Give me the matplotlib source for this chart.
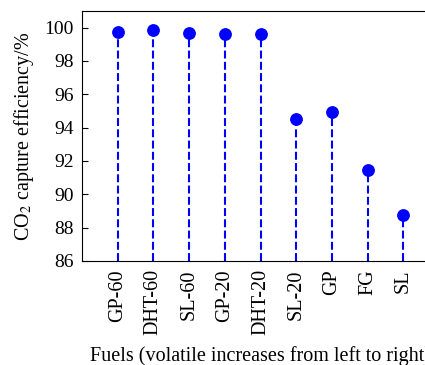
import matplotlib.pyplot as plt
import numpy as np

plt.rcParams['font.family'] = ['Liberation Serif', 'DejaVu Serif']
plt.rcParams['mathtext.fontset'] = 'stix'

fuels = ["GP-60", "DHT-60", "SL-60", "GP-20", "DHT-20", "SL-20", "GP", "FG", "SL"]
efficiency = [99.76, 99.84, 99.70, 99.60, 99.64, 94.52, 94.92, 91.48, 88.75]

fig = plt.figure(figsize=(4.25, 3.65), dpi=100)
ax = fig.add_axes([82 / 425, 1 - 261 / 365, 357 / 425, 250 / 365])

x = np.arange(1, len(fuels) + 1)
markerline, stemlines, baseline = ax.stem(x, efficiency, linefmt="b--", markerfmt="bo",
                                          basefmt=" ", bottom=86)
markerline.set_markersize(8.2)
stemlines.set_linewidth(1.5)
stemlines.set_linestyle((0, (3.8, 1.6)))

ax.set_xlim(0, 10)
ax.set_ylim(86, 101)
ax.set_yticks(np.arange(86, 101, 2))
ax.set_xticks(x)
ax.set_xticklabels(fuels, rotation=90, fontsize=14.5)
ax.tick_params(axis="y", direction="in", length=4, pad=6, labelsize=14)
ax.tick_params(axis="x", length=0, pad=6)
ax.spines["right"].set_visible(False)

ax.set_ylabel("CO$_2$ capture efficiency/%", fontsize=14.5, labelpad=6)
ax.set_xlabel("Fuels (volatile increases from left to right)", fontsize=14.5, labelpad=8)

fig.savefig("out.png", dpi=100)
